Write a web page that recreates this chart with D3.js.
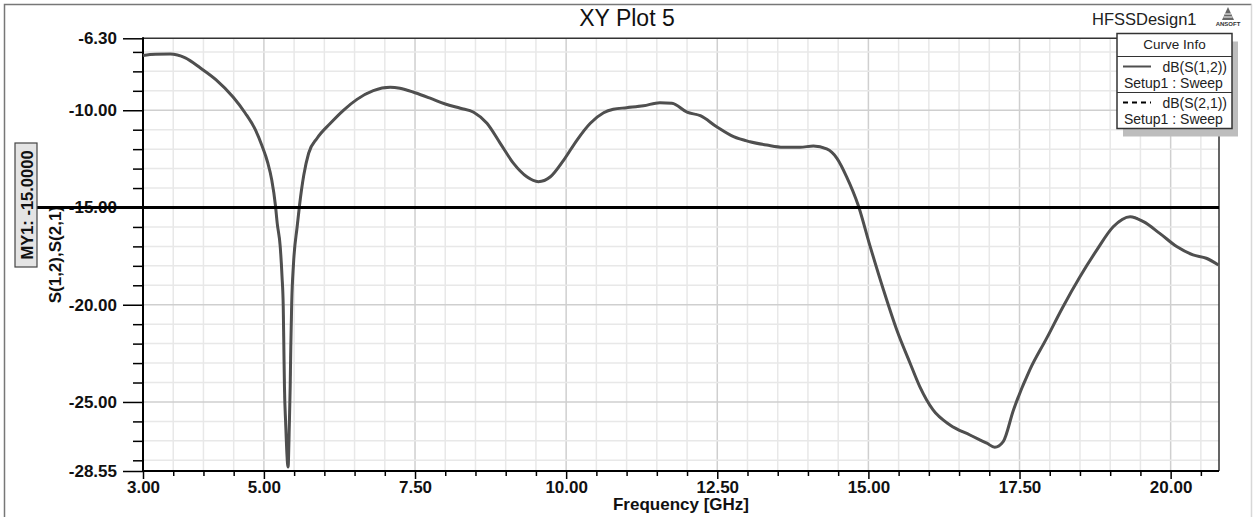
<!DOCTYPE html>
<html>
<head>
<meta charset="utf-8">
<script src="https://cdn.jsdelivr.net/npm/d3@7"></script>
<style>
  body { margin: 0; background: #fff; }
  svg text { font-family: "Liberation Sans", Arial, sans-serif; }
</style>
</head>
<body>
<svg id="chart" width="1254" height="517"></svg>
<script>
// frequency sweep (GHz) and dB(S(1,2))
var freq = [3.00, 3.20, 3.45, 3.70, 3.95, 4.21, 4.49, 4.69, 4.86, 4.97, 5.06, 5.13, 5.19, 5.22, 5.27, 5.30,
  5.32, 5.33, 5.34, 5.36, 5.40, 5.42, 5.435, 5.445, 5.46, 5.49, 5.55, 5.59, 5.66, 5.74, 5.88, 6.10,
  6.32, 6.54, 6.81, 7.09, 7.25, 7.50, 7.75, 8.00, 8.25, 8.47, 8.69, 8.91, 9.13, 9.35, 9.54, 9.74,
  9.96, 10.18, 10.40, 10.62, 10.78, 11.00, 11.28, 11.55, 11.75, 12.00, 12.22, 12.49, 12.77, 13.04,
  13.32, 13.59, 13.87, 14.09, 14.31, 14.48, 14.64, 14.83, 15.03, 15.25, 15.47, 15.69, 15.85, 16.07,
  16.35, 16.68, 16.96, 17.09, 17.23, 17.40, 17.67, 17.95, 18.22, 18.50, 18.78, 19.05, 19.33, 19.55,
  19.82, 20.10, 20.37, 20.59, 20.79]
var s12 = [-7.18, -7.12, -7.11, -7.31, -7.83, -8.44, -9.32, -10.14, -11.01, -11.84, -12.66, -13.59, -14.87, -15.80, -17.01, -18.56,
  -20.10, -22.16, -24.21, -26.09, -28.34, -26.27, -24.21, -22.16, -19.92, -17.87, -15.99, -14.87, -13.33, -12.21, -11.44, -10.67,
  -9.99, -9.44, -8.99, -8.82, -8.87, -9.10, -9.38, -9.68, -9.90, -10.10, -10.67, -11.70, -12.73, -13.42, -13.67, -13.42,
  -12.56, -11.53, -10.67, -10.13, -9.95, -9.87, -9.77, -9.61, -9.64, -10.10, -10.28, -10.85, -11.36, -11.62,
  -11.79, -11.90, -11.90, -11.84, -11.99, -12.47, -13.42, -14.87, -17.01, -19.24, -21.30, -23.01, -24.21, -25.41,
  -26.18, -26.70, -27.12, -27.33, -27.04, -25.41, -23.35, -21.72, -20.10, -18.56, -17.18, -15.99, -15.47, -15.73,
  -16.33, -17.01, -17.44, -17.61, -17.96]
// dB(S(2,1)) lies exactly on top of dB(S(1,2)) in the plot
var s21 = s12.slice()

var xLabelTicks = [3, 5, 7.5, 10, 12.5, 15, 17.5, 20]
var xMinorTicks = d3.range(3.5, 20.8, 0.5)
var yLabelTicks = [-6.3, -10, -15, -20, -25, -28.55]
var yMinorTicks = d3.range(-7, -28.5, -1)
var markerValue = -15
var legendNames = ["dB(S(1,2))", "dB(S(2,1))"]
var legendSetup = "Setup1 : Sweep"

var svg = d3.select("#chart")
var pLeft = 143, pRight = 1219, pTop = 38.3, pBottom = 471

var x = d3.scaleLinear().domain([3, 20.8]).range([pLeft, pRight])
var y = d3.scaleLinear().domain([-6.3, -28.55]).range([pTop, pBottom])

// plain hyphen minus like HFSS does
var loc = d3.formatLocale({decimal: ".", thousands: ",", grouping: [3], currency: ["", ""], minus: "-"})
var f2 = loc.format(".2f"), f4 = loc.format(".4f")

// outer frame
svg.append("path").attr("d", "M4.5,520 V4.5 H1251.5").attr("fill", "none").attr("stroke", "#777").attr("stroke-width", 1.5)
svg.append("line").attr("x1", 1251.5).attr("x2", 1251.5).attr("y1", 4.5).attr("y2", 520).attr("stroke", "#d8d8d8").attr("stroke-width", 1.5)

// title + design name
svg.append("text").attr("x", 627).attr("y", 26).attr("text-anchor", "middle")
  .style("font-size", "23px").attr("fill", "#111").text("XY Plot 5")
svg.append("text").attr("x", 1092).attr("y", 25).style("font-size", "16.5px").attr("fill", "#222").text("HFSSDesign1")
// little ansoft logo
var logo = svg.append("g").attr("transform", "translate(1228,7)")
logo.append("path").attr("d", "M0,0 L-6,13 L6,13 Z").attr("fill", "#666")
logo.append("path").attr("d", "M-3,7 H3 M-4.5,10 H4.5").attr("stroke", "#fff").attr("stroke-width", 1)
logo.append("text").attr("x", 0).attr("y", 18.5).attr("text-anchor", "middle")
  .style("font-size", "6px").style("font-weight", "bold").attr("fill", "#333").text("ANSOFT")

// grid
var grid = svg.append("g")
grid.selectAll(".vmin").data(xMinorTicks).enter().append("line")
  .attr("x1", function(d){ return x(d) }).attr("x2", function(d){ return x(d) })
  .attr("y1", pTop).attr("y2", pBottom)
  .attr("stroke", function(d){ return xLabelTicks.indexOf(d) >= 0 ? "#cfcfcf" : "#e8e8e8" })
  .attr("stroke-width", 1.5)
grid.selectAll(".hmin").data(yMinorTicks).enter().append("line")
  .attr("x1", pLeft).attr("x2", pRight)
  .attr("y1", function(d){ return y(d) }).attr("y2", function(d){ return y(d) })
  .attr("stroke", function(d){ return yLabelTicks.indexOf(d) >= 0 ? "#cfcfcf" : "#e8e8e8" })
  .attr("stroke-width", 1.5)

// plot border (top/right)
svg.append("path").attr("d", "M" + pLeft + "," + pTop + " H" + pRight + " V" + pBottom)
  .attr("fill", "none").attr("stroke", "#333").attr("stroke-width", 1.5)

// axes
function styleAxis(g) {
  g.select(".domain").remove()
  g.selectAll("line").attr("stroke", "#000").attr("stroke-width", 1.5)
  g.selectAll("text").style("font-size", "17px").style("font-weight", "bold").attr("fill", "#111")
}
svg.append("g").attr("transform", "translate(" + pLeft + ",0)")
  .call(d3.axisLeft(y).tickValues(yMinorTicks.filter(function(d){ return yLabelTicks.indexOf(d) < 0 })).tickSize(10).tickFormat(""))
  .call(styleAxis)
svg.append("g").attr("transform", "translate(" + pLeft + ",0)")
  .call(d3.axisLeft(y).tickValues(yLabelTicks).tickSize(20).tickPadding(6).tickFormat(f2))
  .call(styleAxis)
svg.append("g").attr("transform", "translate(0," + pBottom + ")")
  .call(d3.axisBottom(x).tickValues(xMinorTicks.filter(function(d){ return xLabelTicks.indexOf(d) < 0 })).tickSize(5).tickFormat(""))
  .call(styleAxis)
svg.append("g").attr("transform", "translate(0," + pBottom + ")")
  .call(d3.axisBottom(x).tickValues(xLabelTicks).tickSize(8).tickPadding(2).tickFormat(f2))
  .call(styleAxis)

svg.append("line").attr("x1", pLeft).attr("x2", pLeft).attr("y1", pTop - 1).attr("y2", pBottom + 1)
  .attr("stroke", "#000").attr("stroke-width", 2)
svg.append("line").attr("x1", pLeft).attr("x2", pRight).attr("y1", pBottom).attr("y2", pBottom)
  .attr("stroke", "#000").attr("stroke-width", 2)

// axis titles
svg.append("text").attr("x", (pLeft + pRight) / 2).attr("y", 510).attr("text-anchor", "middle")
  .style("font-size", "17px").style("font-weight", "bold").attr("fill", "#111").text("Frequency [GHz]")
svg.append("text").attr("transform", "translate(61," + ((pTop + pBottom) / 2) + ") rotate(-90)")
  .attr("text-anchor", "middle").style("font-size", "17px").style("font-weight", "bold").attr("fill", "#111")
  .text("S(1,2),S(2,1)")

// curves
var line = d3.line().x(function(d){ return x(d[0]) }).y(function(d){ return y(d[1]) }).curve(d3.curveMonotoneX)
svg.append("path").datum(d3.zip(freq, s21)).attr("d", line)
  .attr("fill", "none").attr("stroke", "#000").attr("stroke-width", 1.5).attr("stroke-dasharray", "5,4")
svg.append("path").datum(d3.zip(freq, s12)).attr("d", line)
  .attr("fill", "none").attr("stroke", "#4f4f4f").attr("stroke-width", 3).attr("stroke-linejoin", "round")

// marker MY1
svg.append("line").attr("x1", 37).attr("x2", pRight).attr("y1", y(markerValue)).attr("y2", y(markerValue))
  .attr("stroke", "#000").attr("stroke-width", 3)
svg.append("rect").attr("x", 15).attr("y", 143).attr("width", 22).attr("height", 124)
  .attr("fill", "#e4e4e4").attr("stroke", "#444").attr("stroke-width", 1.2)
svg.append("text").attr("transform", "translate(26.5,205) rotate(-90)")
  .attr("text-anchor", "middle").attr("dominant-baseline", "central")
  .style("font-size", "16.5px").style("font-weight", "bold").attr("fill", "#111")
  .text("MY1: " + f4(markerValue))

// curve info legend
var lx = 1117, ly = 33.5, lw = 115, headH = 23, rowH = 36
var lh = headH + rowH * legendNames.length
svg.append("rect").attr("x", lx + 6).attr("y", ly + 8).attr("width", lw).attr("height", lh).attr("fill", "#bdbdbd")
svg.append("rect").attr("x", lx).attr("y", ly).attr("width", lw).attr("height", lh)
  .attr("fill", "#fff").attr("stroke", "#333").attr("stroke-width", 1.5)
svg.append("text").attr("x", lx + lw / 2).attr("y", ly + 15).attr("text-anchor", "middle")
  .style("font-size", "13.5px").attr("fill", "#222").text("Curve Info")

var rows = svg.selectAll(".lrow").data(legendNames).enter().append("g")
  .attr("transform", function(d, i){ return "translate(" + lx + "," + (ly + headH + i * rowH) + ")" })
rows.append("line").attr("x1", 0).attr("x2", lw).attr("y1", 0).attr("y2", 0).attr("stroke", "#333").attr("stroke-width", 1.2)
rows.append("line").attr("x1", 6).attr("x2", 34).attr("y1", 10).attr("y2", 10)
  .attr("stroke", function(d, i){ return i === 0 ? "#4f4f4f" : "#000" })
  .attr("stroke-width", 2)
  .attr("stroke-dasharray", function(d, i){ return i === 0 ? null : "5,4" })
rows.append("text").attr("x", lw - 5).attr("y", 15).attr("text-anchor", "end")
  .style("font-size", "14px").attr("fill", "#222").text(function(d){ return d })
rows.append("text").attr("x", 7).attr("y", 31).style("font-size", "14px").attr("fill", "#222").text(legendSetup)
</script>
</body>
</html>
